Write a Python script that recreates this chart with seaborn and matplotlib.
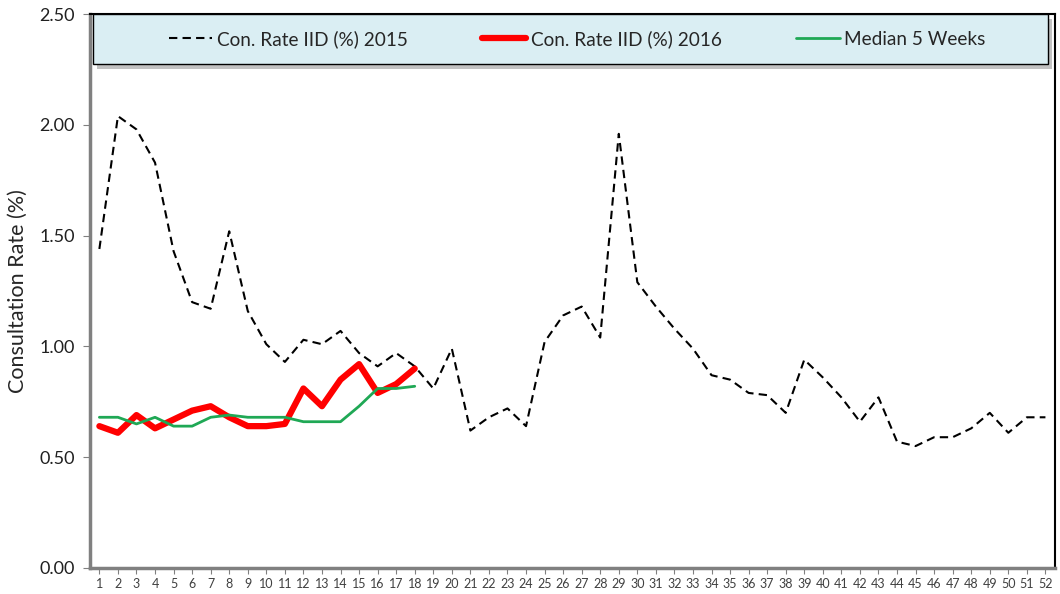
import numpy as np
import pandas as pd
import matplotlib
matplotlib.use("Agg")
import matplotlib.pyplot as plt
from matplotlib.patches import Rectangle
import seaborn as sns

# settimane e valori
weeks_2015 = list(range(1, 53))
rate_2015 = [1.44, 2.04, 1.98, 1.83, 1.43, 1.20, 1.17, 1.52, 1.16, 1.01,
             0.93, 1.03, 1.01, 1.07, 0.97, 0.91, 0.97, 0.91, 0.81, 0.99,
             0.62, 0.68, 0.72, 0.64, 1.02, 1.14, 1.18, 1.04, 1.96, 1.29,
             1.18, 1.08, 0.99, 0.87, 0.85, 0.79, 0.78, 0.70, 0.94, 0.86,
             0.77, 0.66, 0.77, 0.57, 0.55, 0.59, 0.59, 0.63, 0.70, 0.61,
             0.68, 0.68]

weeks_2016 = list(range(1, 19))
rate_2016 = [0.64, 0.61, 0.69, 0.63, 0.67, 0.71, 0.73, 0.68, 0.64, 0.64,
             0.65, 0.81, 0.73, 0.85, 0.92, 0.79, 0.83, 0.90]
median_5w = [0.68, 0.68, 0.65, 0.68, 0.64, 0.64, 0.68, 0.69, 0.68, 0.68,
             0.68, 0.66, 0.66, 0.66, 0.73, 0.81, 0.81, 0.82]

labels = ["Con. Rate IID (%) 2015", "Con. Rate IID (%) 2016", "Median 5 Weeks"]

sns.set_style("ticks")
plt.rcParams['font.family'] = ['Lato', 'DejaVu Sans']

fig = plt.figure(figsize=(10.6, 5.94), dpi=100)
ax = fig.add_axes([0.085, 0.044, 0.91, 0.932])

df15 = pd.DataFrame({"week": weeks_2015, "rate": rate_2015})
df16 = pd.DataFrame({"week": weeks_2016, "rate": rate_2016, "median": median_5w})

sns.lineplot(data=df15, x="week", y="rate", ax=ax, color="black",
             linewidth=1.5, linestyle=(0, (4, 2.5)), label=labels[0])
sns.lineplot(data=df16, x="week", y="rate", ax=ax, color="#FF0000",
             linewidth=4.5, solid_joinstyle="round", solid_capstyle="round",
             label=labels[1])
sns.lineplot(data=df16, x="week", y="median", ax=ax, color="#1FA855",
             linewidth=2, label=labels[2])

ax.set_xlim(0.5, 52.5)
ax.set_ylim(0, 2.5)
ax.set_xticks(weeks_2015)
ax.set_xticklabels([str(w) for w in weeks_2015], fontsize=9, color="#404040")
ax.set_yticks([0, 0.5, 1.0, 1.5, 2.0, 2.5])
ax.set_yticklabels(["0.00", "0.50", "1.00", "1.50", "2.00", "2.50"],
                   fontsize=13, color="#202020")
ax.set_xlabel("")
ax.set_ylabel("Consultation Rate (%)", fontsize=15.5, labelpad=8)
ax.tick_params(axis="x", length=4, color="#808080", pad=3)
ax.tick_params(axis="y", length=5, color="#808080", pad=6)

for side in ["left", "bottom"]:
    ax.spines[side].set_color("#808080")
    ax.spines[side].set_linewidth(2.5)
for side in ["top", "right"]:
    ax.spines[side].set_visible(True)
    ax.spines[side].set_color("black")
    ax.spines[side].set_linewidth(1.5)

# riquadro della legenda con ombra
box_y0 = 0.91
shadow = Rectangle((0.007, box_y0 - 0.008), 0.99, 1 - box_y0, transform=ax.transAxes,
                   facecolor="#9a9a9a", edgecolor="none", alpha=0.6, zorder=4,
                   clip_on=False)
box = Rectangle((0.003, box_y0), 0.99, 1 - box_y0, transform=ax.transAxes,
                facecolor="#DAEEF3", edgecolor="black", linewidth=1.0, zorder=5,
                clip_on=False)
ax.add_patch(shadow)
ax.add_patch(box)

leg = ax.legend(loc="center", bbox_to_anchor=(0.505, (1 + box_y0) / 2), ncol=3,
                fontsize=13.7, frameon=False, handlelength=2.3,
                handletextpad=0.25, columnspacing=3.9, borderaxespad=0)
leg.set_zorder(6)

fig.savefig("out.png", dpi=100)
